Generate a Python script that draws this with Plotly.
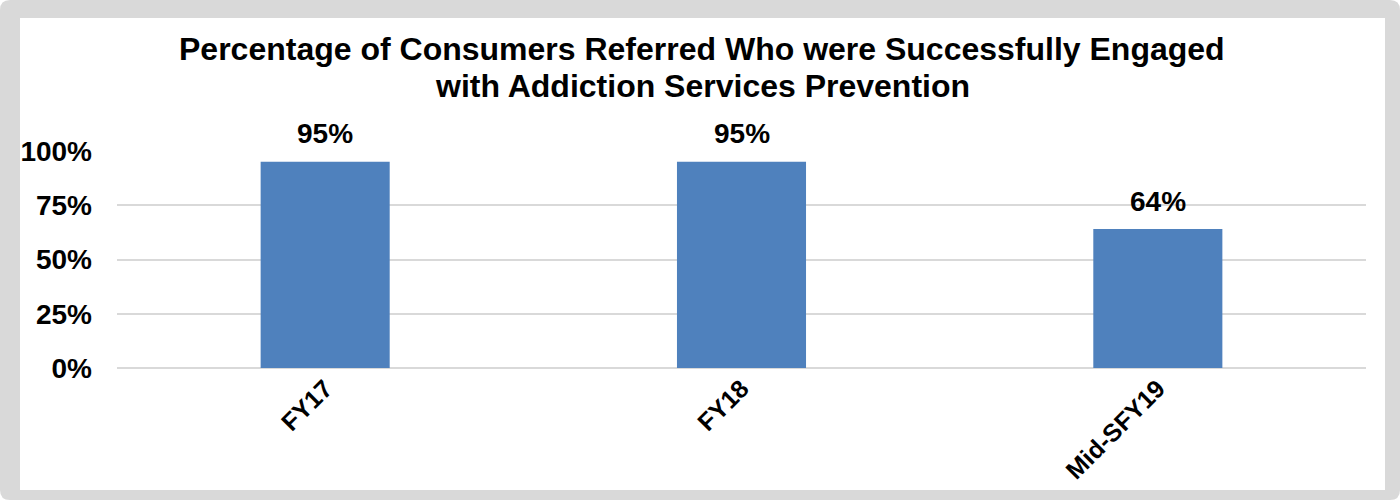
import plotly.graph_objects as go

categories = ["FY17", "FY18", "Mid-SFY19"]
values = [0.95, 0.95, 0.64]
labels = ["95%", "95%", "64%"]
tick_vals = [0, 0.25, 0.5, 0.75, 1.0]
tick_text = ["0%", "25%", "50%", "75%", "100%"]
title_lines = ["Percentage of Consumers Referred Who were Successfully Engaged",
               "with Addiction Services Prevention"]

W, H = 1400, 500
L, R, T, B = 117, 34, 151, 132
pw, ph = W - L - R, H - T - B

def px_x(x):
    return (x - L) / pw

def px_y(y):
    return (H - B - y) / ph

FONT = "Liberation Sans, Arial, sans-serif"

fig = go.Figure()
fig.add_trace(go.Bar(
    x=categories, y=values, width=0.31,
    marker=dict(color="#4F81BD", line=dict(width=0)),
    hoverinfo="skip",
))

for c, v, t in zip(categories, values, labels):
    fig.add_annotation(x=c, y=v, text=t, showarrow=False, xanchor="center",
                       yanchor="middle", yshift=28,
                       font=dict(family=FONT, size=28, color="black", weight="bold"))

for i, (line, yc) in enumerate(zip(title_lines, [49, 86])):
    fig.add_annotation(x=px_x(702), y=px_y(yc), xref="paper", yref="paper",
                       text=line, showarrow=False, xanchor="center", yanchor="middle",
                       font=dict(family=FONT, size=32, color="black", weight="bold"))

# outer gray frame with rounded corners, white inner panel
x0, x1, y0, y1 = px_x(0), px_x(W), px_y(H), px_y(0)
rr = 10
rx, ry = rr / pw, rr / ph
path = (f"M {x0+rx},{y1} L {x1-rx},{y1} Q {x1},{y1} {x1},{y1-ry} "
        f"L {x1},{y0+ry} Q {x1},{y0} {x1-rx},{y0} L {x0+rx},{y0} "
        f"Q {x0},{y0} {x0},{y0+ry} L {x0},{y1-ry} Q {x0},{y1} {x0+rx},{y1} Z")
fig.add_shape(type="path", path=path, xref="paper", yref="paper",
              fillcolor="#D9D9D9", line=dict(width=0), layer="below")
fig.add_shape(type="rect", xref="paper", yref="paper",
              x0=px_x(20), x1=px_x(1385), y0=px_y(490), y1=px_y(18),
              fillcolor="white", line=dict(width=0), layer="below")

fig.update_layout(
    width=W, height=H,
    margin=dict(l=L, r=R, t=T, b=B, pad=0),
    paper_bgcolor="white", plot_bgcolor="rgba(0,0,0,0)",
    showlegend=False,
    xaxis=dict(
        tickangle=-45, showgrid=False, showline=False, ticks="",
        tickfont=dict(family=FONT, size=25, color="black", weight="bold"),
    ),
    yaxis=dict(
        range=[0, 1.0], tickvals=tick_vals, ticktext=tick_text,
        showgrid=True, gridcolor="#D9D9D9", gridwidth=2,
        zeroline=True, zerolinecolor="#D9D9D9", zerolinewidth=2,
        showline=False, ticks="", ticklabelstandoff=24,
        tickfont=dict(family=FONT, size=28, color="black", weight="bold"),
    ),
)

fig.write_html("out.html", config={"displayModeBar": False},
               post_script="document.body.style.margin='0';document.body.style.overflow='hidden';")
